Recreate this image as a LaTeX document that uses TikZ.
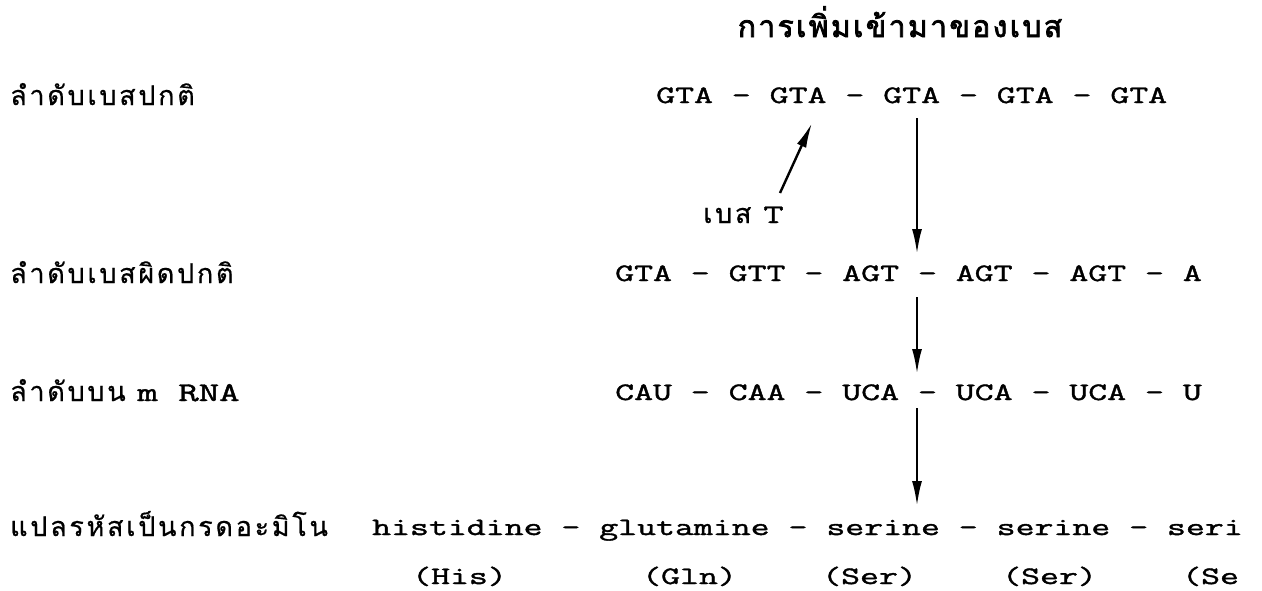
\documentclass[tikz,border=0pt]{standalone}
\usepackage{fontspec}
\usetikzlibrary{arrows.meta}
\setmonofont{Latin Modern Mono}[FakeStretch=1.47, FakeBold=1.6]
\newfontfamily\thai[Script=Thai, FakeBold=0.5, LetterSpace=10]{Loma}
\newfontfamily\thaib[Script=Thai, FakeBold=2.5, LetterSpace=8]{Loma}
\tikzset{
  seq/.style={font=\ttfamily\fontsize{25}{28}\selectfont, anchor=base west, inner sep=0pt},
  lab/.style={font=\thai\fontsize{27}{30}\selectfont, anchor=base west, inner sep=0pt},
  ttl/.style={font=\thaib\fontsize{30}{34}\selectfont, anchor=base, inner sep=0pt},
  arr/.style={line width=2.4pt, -{Latex[length=25pt,width=10pt]}},
}
\begin{document}
\begin{tikzpicture}[x=1pt, y=-1pt]
\useasboundingbox[fill=white] (0,0) rectangle (1262,590);
\node[ttl] (title) at (900,37) {การเพิ่มเข้ามาของเบส};
\node[lab] (l1) at (10,105) {ลำดับเบสปกติ};
\node[lab] (l2) at (10,283) {ลำดับเบสผิดปกติ};
\node[lab] (l3) at (10,401) {ลำดับบน {\ttfamily m RNA}};
\node[lab] (l4) at (10,536) {แปลรหัสเป็นกรดอะมิโน};
\node[seq] (s1) at (656,103) {GTA - GTA - GTA - GTA - GTA};
\node[seq] (s2) at (615,281) {GTA - GTT - AGT - AGT - AGT - A};
\node[seq] (s3) at (615,400) {CAU - CAA - UCA - UCA - UCA - U};
\node[seq] (s4) at (372,535) {histidine - glutamine - serine - serine - seri};
\node[seq] (a1) at (412,584) {(His)};
\node[seq] (a2) at (642,584) {(Gln)};
\node[seq] (a3) at (822,584) {(Ser)};
\node[seq] (a4) at (1002,584) {(Ser)};
\node[seq] (a5) at (1182,584) {(Se};
\node[lab] (bt) at (703,223) {เบส {\ttfamily T}};
\coordinate (t0) at (780,193);
\coordinate (t1) at (812,123);
\coordinate (v1a) at (917,118);
\coordinate (v1b) at (917,254);
\coordinate (v2a) at (917,297);
\coordinate (v2b) at (917,374);
\coordinate (v3a) at (917,408);
\coordinate (v3b) at (917,506);
\draw[arr] (t0) -- (t1);
\draw[arr] (v1a) -- (v1b);
\draw[arr] (v2a) -- (v2b);
\draw[arr] (v3a) -- (v3b);
\end{tikzpicture}
\end{document}
